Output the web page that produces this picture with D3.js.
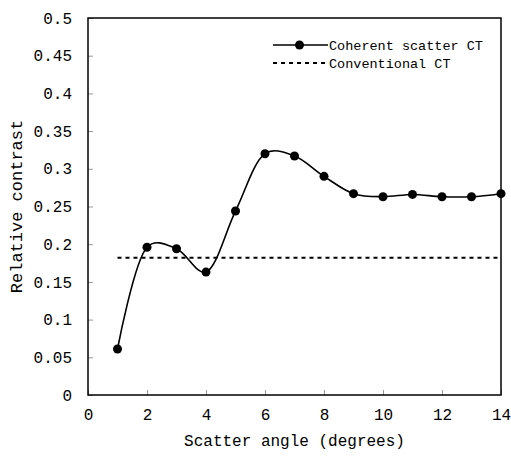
<!DOCTYPE html>
<html>
<head>
<meta charset="utf-8">
<script src="https://cdn.jsdelivr.net/npm/d3@7"></script>
<style>
  body { margin: 0; background: #fff; }
  text { font-family: "Liberation Mono", "DejaVu Sans Mono", monospace; fill: #000; }
</style>
</head>
<body>
<div id="chart"></div>
<script>
// scatter angle (degrees)
var angles = [1, 2, 3, 4, 5, 6, 7, 8, 9, 10, 11, 12, 13, 14];
// relative contrast, coherent scatter CT
var coherent = [0.061, 0.196, 0.194, 0.163, 0.244, 0.320, 0.317, 0.290, 0.267, 0.263, 0.266, 0.263, 0.263, 0.267];
// conventional CT (flat)
var conventional = 0.182;
var xTicks = [0, 2, 4, 6, 8, 10, 12, 14];
var yTicks = [0, 0.05, 0.1, 0.15, 0.2, 0.25, 0.3, 0.35, 0.4, 0.45, 0.5];
var seriesNames = ["Coherent scatter CT", "Conventional CT"];

var margin = {top: 18, right: 10, bottom: 64, left: 88},
    width = 511 - margin.left - margin.right,
    height = 459 - margin.top - margin.bottom;

var x = d3.scaleLinear().domain([0, 14]).range([0, width]);
var y = d3.scaleLinear().domain([0, 0.5]).range([height, 0]);

var svg = d3.select("#chart")
  .append("svg")
    .attr("width", width + margin.left + margin.right)
    .attr("height", height + margin.top + margin.bottom)
  .append("g")
    .attr("transform", "translate(" + margin.left + "," + margin.top + ")");

// axes, ticks pointing inward
var xAxis = svg.append("g")
    .attr("transform", "translate(0," + height + ")")
    .call(d3.axisBottom(x).tickValues(xTicks).tickSizeInner(-5).tickSizeOuter(0).tickPadding(14)
      .tickFormat(d3.format("d")));
xAxis.select(".domain").remove();
xAxis.selectAll("line").attr("stroke", "#999");
xAxis.selectAll("text").attr("font-size", "16px").style("font-family", "Liberation Mono");

var yAxis = svg.append("g")
    .call(d3.axisLeft(y).tickValues(yTicks).tickSizeInner(-5).tickSizeOuter(0).tickPadding(16)
      .tickFormat(function(d) { return d === 0 ? "0" : d3.format("")(+d.toFixed(2)); }));
yAxis.select(".domain").remove();
yAxis.selectAll("line").attr("stroke", "#999");
yAxis.selectAll("text").attr("font-size", "16px").style("font-family", "Liberation Mono");

// frame
svg.append("rect")
    .attr("width", width)
    .attr("height", height)
    .attr("fill", "none")
    .attr("stroke", "#000")
    .attr("stroke-width", 1.5);

// axis titles
svg.append("text")
    .attr("x", width / 2)
    .attr("y", height + 51)
    .attr("text-anchor", "middle")
    .attr("font-size", "16px")
    .text("Scatter angle (degrees)");

svg.append("text")
    .attr("transform", "rotate(-90)")
    .attr("x", -height / 2)
    .attr("y", -66)
    .attr("text-anchor", "middle")
    .attr("font-size", "17px")
    .text("Relative contrast");

// conventional CT dashed line
svg.append("line")
    .attr("x1", x(angles[0]))
    .attr("x2", x(angles[angles.length - 1]))
    .attr("y1", y(conventional))
    .attr("y2", y(conventional))
    .attr("stroke", "#000")
    .attr("stroke-width", 2)
    .attr("stroke-dasharray", "4,4");

// coherent scatter CT smoothed line
var data = angles.map(function(a, i) { return {angle: a, value: coherent[i]}; });

var line = d3.line()
    .x(function(d) { return x(d.angle); })
    .y(function(d) { return y(d.value); })
    .curve(d3.curveCatmullRom.alpha(0.3));

svg.append("path")
    .datum(data)
    .attr("fill", "none")
    .attr("stroke", "#000")
    .attr("stroke-width", 1.6)
    .attr("d", line);

svg.append("g")
  .selectAll("circle")
    .data(data)
    .enter()
  .append("circle")
    .attr("cx", function(d) { return x(d.angle); })
    .attr("cy", function(d) { return y(d.value); })
    .attr("r", 4.5)
    .attr("fill", "#000");

// legend
var legend = svg.append("g")
    .attr("transform", "translate(" + (273 - margin.left) + "," + (45 - margin.top) + ")");

legend.append("line")
    .attr("x1", 0).attr("x2", 55)
    .attr("y1", 0).attr("y2", 0)
    .attr("stroke", "#000")
    .attr("stroke-width", 1.6);
legend.append("circle")
    .attr("cx", 26.5).attr("cy", 0).attr("r", 4.5)
    .attr("fill", "#000");
legend.append("text")
    .attr("x", 56).attr("y", 0)
    .attr("dy", "0.35em")
    .attr("font-size", "13.5px")
    .text(seriesNames[0]);

legend.append("line")
    .attr("x1", 0).attr("x2", 52)
    .attr("y1", 18).attr("y2", 18)
    .attr("stroke", "#000")
    .attr("stroke-width", 2)
    .attr("stroke-dasharray", "4,4");
legend.append("text")
    .attr("x", 56).attr("y", 18)
    .attr("dy", "0.35em")
    .attr("font-size", "13.5px")
    .text(seriesNames[1]);
</script>
</body>
</html>
